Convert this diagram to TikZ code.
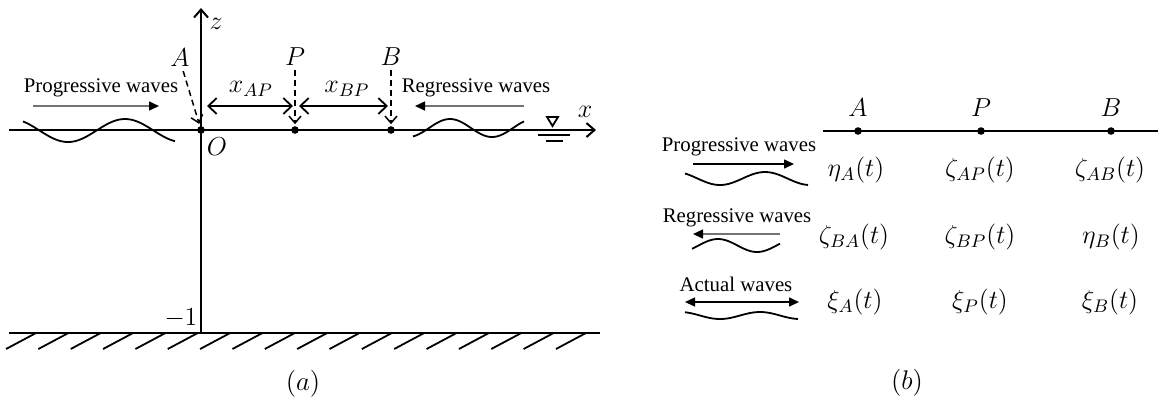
\RequirePackage{fix-cm}
\documentclass[tikz,border=0pt]{standalone}
\usepackage{fontspec}
\newfontfamily\tnr{Liberation Serif}
\usetikzlibrary{arrows.meta}
\begin{document}
\begin{tikzpicture}[x=0.5pt,y=-0.5pt,
  axis/.style={line width=1pt,-{Straight Barb[length=4pt,width=7pt]}},
  ln/.style={line width=0.9pt},
  dot/.style={circle,fill=black,inner sep=0pt,minimum size=3.8pt},
  dsh/.style={line width=0.75pt,dash pattern=on 3pt off 2pt,-{Straight Barb[length=3.5pt,width=6pt]}},
  dbl/.style={line width=0.9pt,{Straight Barb[length=4.2pt,width=8pt]}-{Straight Barb[length=4.2pt,width=8pt]}},
  warr/.style={line width=0.75pt,-{Triangle[length=5pt,width=4.5pt,color=black]}},
  garr/.style={warr,draw=black!55},
  barr/.style={line width=0.75pt,{Triangle[length=5pt,width=4.5pt]}-{Triangle[length=5pt,width=4.5pt]}},
  wave/.style={line width=0.9pt},
  txt/.style={font=\tnr\fontsize{10.4}{12}\selectfont,inner sep=0pt},
  lab/.style={font=\fontsize{13}{15}\selectfont,inner sep=0pt},
  labb/.style={font=\fontsize{13}{15}\selectfont,inner sep=0pt},
  captxt/.style={font=\fontsize{13.5}{15}\selectfont,inner sep=0pt}]
\useasboundingbox (0,0) rectangle (1165,404);
% ---------------- panel (a)
\coordinate (zb) at (201,333);
\coordinate (zt) at (201,8);
\coordinate (xl) at (9,130);
\coordinate (xr) at (596,130);
\draw[axis] (zb) -- (zt);
\draw[axis] (xl) -- (xr);
\node[dot] (O) at (201,130) {};
\node[dot] (P) at (295,130) {};
\node[dot] (B) at (391,130) {};
\node[lab] (zlab) at (216,24) {$z$};
\node[lab] (xlab) at (585,112) {$x$};
\node[lab] (Olab) at (217,147) {$O$};
\node[lab] (Alab) at (180,58) {$A$};
\node[lab] (Plab) at (295,57) {$P$};
\node[lab] (Blab) at (391,57) {$B$};
\draw[dsh,shorten <=2pt,shorten >=1pt] ([xshift=1pt]Alab.south) -- ([xshift=-0.6pt]O.north);
\draw[dsh,shorten <=2pt,shorten >=0.8pt] (Plab.south) -- (P.north);
\draw[dsh,shorten <=2pt,shorten >=0.8pt] (Blab.south) -- (B.north);
\coordinate (ap1) at (207,106);
\coordinate (ap2) at (293,106);
\coordinate (bp1) at (299,106);
\coordinate (bp2) at (388,106);
\draw[dbl] (ap1) -- (ap2);
\draw[dbl] (bp1) -- (bp2);
\node[lab] (xap) at (251,89) {$x_{AP}$};
\node[lab] (xbp) at (347,89) {$x_{BP}$};
\node[txt] (prog) at (101,88) {Progressive waves};
\node[txt] (regr) at (476,88) {Regressive waves};
\coordinate (pa1) at (33,106);
\coordinate (pa2) at (159,106);
\coordinate (ra1) at (524,106);
\coordinate (ra2) at (415,106);
\draw[garr] (pa1) -- (pa2);
\draw[garr] (ra1) -- (ra2);
\draw[wave] plot[domain=23:175,samples=80,smooth] (\x,{130.5+11.5*cos((\x-68)/114*360)});
\draw[wave] plot[domain=413:524,samples=60,smooth] (\x,{128-9*cos((\x-450)/84*360)});
\draw[ln] (547,117) -- (558,117) -- (552.5,126) -- cycle;
\coordinate (w1) at (538,135); \coordinate (w2) at (570,135);
\coordinate (w3) at (546,141); \coordinate (w4) at (563,141);
\draw[ln] (w1) -- (w2);
\draw[ln] (w3) -- (w4);
\coordinate (bot1) at (9,333);
\coordinate (bot2) at (600,333);
\draw[line width=1pt] (bot1) -- (bot2);
\foreach \i in {0,...,17} \draw[ln] ({6+32.35*\i},349) -- ({36+32.35*\i},333);
\node[lab] (m1) at (181,318) {$-1$};
\node[captxt] (capa) at (303,384) {$(a)$};
% ---------------- panel (b)
\coordinate (bl) at (823,131);
\coordinate (br) at (1158,131);
\draw[ln] (bl) -- (br);
\node[dot] (bA) at (858,131) {};
\node[dot] (bP) at (981,131) {};
\node[dot] (bB) at (1111,131) {};
\node[labb] (bAl) at (858,108) {$A$};
\node[labb] (bPl) at (981,108) {$P$};
\node[labb] (bBl) at (1111,108) {$B$};
\node[labb] (r11) at (856,170) {$\eta_A(t)$};
\node[labb] (r12) at (980,170) {$\zeta_{AP}(t)$};
\node[labb] (r13) at (1110,170) {$\zeta_{AB}(t)$};
\node[labb] (r21) at (854,237) {$\zeta_{BA}(t)$};
\node[labb] (r22) at (980,237) {$\zeta_{BP}(t)$};
\node[labb] (r23) at (1111,237) {$\eta_B(t)$};
\node[labb] (r31) at (855,302) {$\xi_A(t)$};
\node[labb] (r32) at (980,302) {$\xi_P(t)$};
\node[labb] (r33) at (1110,302) {$\xi_B(t)$};
\node[txt] (bprog) at (739,147) {Progressive waves};
\node[txt] (bregr) at (737,218) {Regressive waves};
\node[txt] (bact) at (736,284) {Actual waves};
\coordinate (q1) at (693,164); \coordinate (q2) at (794,164);
\coordinate (q3) at (780,234); \coordinate (q4) at (693,234);
\coordinate (q5) at (685,302); \coordinate (q6) at (799,302);
\draw[warr] (q1) -- (q2);
\draw[garr] (q3) -- (q4);
\draw[barr] (q5) -- (q6);
\draw[wave] plot[domain=685:808,samples=60,smooth] (\x,{178.5-6.5*cos((\x-765)/90*360)});
\draw[wave] plot[domain=692:780,samples=50,smooth] (\x,{245.5-6.5*cos((\x-718)/78*360)});
\draw[wave] plot[domain=685:798,samples=60,smooth] (\x,{315.5-3.5*cos((\x-760)/80*360)});
\node[captxt] (capb) at (907,383) {$(b)$};
\end{tikzpicture}
\end{document}
